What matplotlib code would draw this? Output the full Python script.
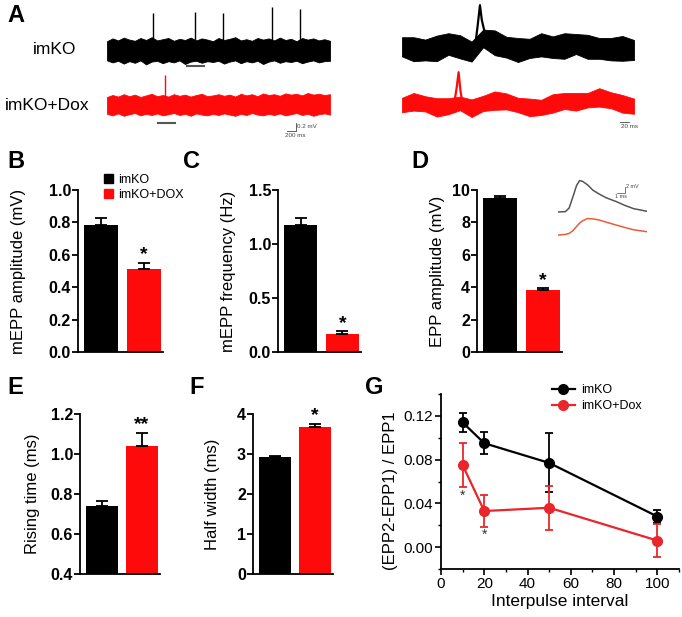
import numpy as np
import matplotlib.pyplot as plt
from matplotlib.patches import Patch
from matplotlib.lines import Line2D

plt.rcParams['font.family'] = ['Liberation Sans', 'DejaVu Sans']

# ---------------- data ----------------
groups = ["imKO", "imKO+DOX"]
mepp_amp = [0.785, 0.51]
mepp_amp_err = [0.045, 0.04]
mepp_freq = [1.18, 0.17]
mepp_freq_err = [0.06, 0.02]
epp_amp = [9.5, 3.8]
epp_amp_err = [0.12, 0.14]
rise_time = [0.74, 1.04]
rise_time_err = [0.025, 0.065]
half_width = [2.92, 3.68]
half_width_err = [0.04, 0.07]

ppf_interval = [10, 20, 50, 100]
ppf_imko = [0.114, 0.095, 0.077, 0.028]
ppf_imko_err = [0.009, 0.010, 0.027, 0.006]
ppf_dox = [0.075, 0.033, 0.036, 0.006]
ppf_dox_err = [0.020, 0.015, 0.020, 0.015]
ppf_star_x = [10, 20]
ppf_star_y = [0.047, 0.011]

# panel A, long recordings (ms, mV): noise envelope every 125 ms
long_t = np.arange(0, 5001, 125)
ko_long_hi = [0.22, 0.29, 0.24, 0.31, 0.26, 0.23, 0.30, 0.25, 0.32, 0.24, 0.27, 0.30, 0.23, 0.28,
              0.25, 0.31, 0.24, 0.29, 0.26, 0.22, 0.30, 0.25, 0.28, 0.32, 0.24, 0.27, 0.23, 0.30,
              0.26, 0.29, 0.24, 0.31, 0.25, 0.28, 0.22, 0.30, 0.26, 0.29, 0.24, 0.27, 0.23]
ko_long_lo = [-0.26, -0.31, -0.27, -0.34, -0.28, -0.32, -0.26, -0.36, -0.29, -0.27, -0.33, -0.28,
              -0.31, -0.26, -0.35, -0.29, -0.27, -0.32, -0.28, -0.30, -0.27, -0.34, -0.29, -0.26,
              -0.33, -0.28, -0.31, -0.27, -0.35, -0.29, -0.26, -0.32, -0.28, -0.30, -0.27, -0.33,
              -0.29, -0.26, -0.31, -0.28, -0.27]
dox_long_hi = [0.20, 0.25, 0.21, 0.27, 0.22, 0.26, 0.20, 0.24, 0.28, 0.22, 0.25, 0.21, 0.27, 0.23,
               0.26, 0.21, 0.25, 0.28, 0.22, 0.24, 0.27, 0.23, 0.26, 0.21, 0.28, 0.24, 0.27, 0.22,
               0.29, 0.25, 0.27, 0.23, 0.29, 0.26, 0.28, 0.24, 0.30, 0.26, 0.28, 0.25, 0.27]
dox_long_lo = [-0.22, -0.26, -0.21, -0.27, -0.23, -0.20, -0.26, -0.22, -0.25, -0.21, -0.26, -0.23,
               -0.20, -0.25, -0.22, -0.27, -0.21, -0.24, -0.26, -0.22, -0.25, -0.21, -0.24, -0.27,
               -0.22, -0.25, -0.20, -0.24, -0.26, -0.22, -0.25, -0.21, -0.26, -0.23, -0.20, -0.25,
               -0.22, -0.27, -0.23, -0.21, -0.24]
ko_spike_t = [1031, 1973, 2601, 3700, 4327]
ko_spike_h = [0.92, 0.94, 0.92, 1.07, 1.02]
dox_spike_t = [1300]
dox_spike_h = [0.75]

# panel A, short recordings (ms, mV): centre and half thickness of the noisy trace
short_t = [0, 25, 50, 75, 100, 125, 150, 175, 200, 225, 250,
           275, 300, 325, 350, 375, 400, 425, 450, 475, 500]
ko_short_mid = [0.08, 0.02, 0.0, 0.04, 0.15, 0.08, -0.04, 0.29, 0.18, 0.07, 0.0,
                0.04, 0.13, 0.07, 0.10, 0.15, 0.08, 0.04, 0.02, 0.04, 0.0]
ko_short_half = [0.24, 0.30, 0.26, 0.32, 0.27, 0.29, 0.25, 0.22, 0.31, 0.26, 0.30,
                 0.24, 0.29, 0.27, 0.32, 0.25, 0.30, 0.26, 0.28, 0.31, 0.25]
dox_short_mid = [0.0, 0.08, 0.03, -0.06, -0.03, 0.04, -0.08, 0.04, 0.11, 0.09, 0.0,
                 -0.06, -0.06, 0.04, 0.10, 0.08, 0.12, 0.19, 0.12, 0.03, -0.03]
dox_short_half = [0.18, 0.22, 0.19, 0.23, 0.20, 0.17, 0.22, 0.19, 0.23, 0.20, 0.18,
                  0.22, 0.19, 0.23, 0.20, 0.22, 0.18, 0.23, 0.20, 0.22, 0.19]
ko_short_spk_t = [156, 163, 168, 172, 178, 188]
ko_short_spk_v = [-0.05, 0.6, 1.12, 0.75, 0.45, 0.3]
dox_short_spk_t = [112, 118, 122, 126, 132]
dox_short_spk_v = [0.0, 0.45, 0.82, 0.35, -0.05]

# panel D inset, evoked EPPs (ms, mV)
epp_t = [0, 1.0, 1.5, 2.0, 2.5, 2.9, 3.3, 4.0, 4.7, 5.5, 6.5, 7.9, 9.0, 10.2, 12]
epp_ko = [0, 0.1, 1.2, 4.5, 8.0, 9.5, 9.3, 8.2, 6.6, 5.5, 4.3, 3.1, 2.0, 1.0, 0.2]
epp_dox = [0, 0.2, 0.5, 1.3, 2.6, 3.6, 4.3, 5.0, 4.9, 4.6, 3.9, 3.0, 2.3, 1.6, 1.0]

BLACK = "#000000"
RED = "#ff0a0a"
W, H = 682, 617
fig = plt.figure(figsize=(W / 100, H / 100), dpi=100)


def px_axes(l, t, r, b):
    return fig.add_axes([l / W, 1 - b / H, (r - l) / W, (b - t) / H])


def letter(x, y, s):
    fig.text(x / W, 1 - y / H, s, fontsize=17, fontweight='bold', ha='left', va='center')


def bar_panel(ax, vals, errs, ylim, yticks, ticklabels, ylabel, label_x, stars):
    x = np.arange(len(vals))
    ax.bar(x, vals, width=0.8, color=[BLACK, RED])
    ax.errorbar(x, vals, yerr=[np.zeros(len(errs)), errs], fmt='none', ecolor='black',
                elinewidth=1.3, capsize=4.5, capthick=1.3)
    ax.set_xlim(-0.55, 1.45)
    ax.set_ylim(*ylim)
    ax.set_yticks(yticks)
    ax.set_yticklabels(ticklabels, fontweight='bold')
    for s in ['top', 'right']:
        ax.spines[s].set_visible(False)
    for s in ['left', 'bottom']:
        ax.spines[s].set_linewidth(1.3)
    ax.tick_params(axis='x', length=0, labelbottom=False)
    ax.tick_params(axis='y', length=4, width=1.3, labelsize=11.5, pad=1)
    ax.set_ylabel(ylabel, fontsize=12, va='center')
    ax.yaxis.set_label_coords(label_x, 0.5)
    ax.annotate(stars, xy=(1, vals[1] + errs[1]), xytext=(0, 2.5),
                textcoords='offset points', ha='center', va='baseline',
                fontsize=14, fontweight='bold')


# ---------------- panel A ----------------
letter(7, 16, "A")
fig.text(55 / W, 1 - 50 / H, "imKO", fontsize=12.5, ha='center', va='center')
fig.text(47 / W, 1 - 105 / H, "imKO+Dox", fontsize=12.5, ha='center', va='center')

dox_off = -1.375
axA1 = px_axes(107, 0, 330, 140)
axA1.set_xlim(0, 5000)
axA1.set_ylim(-2.25, 1.25)
axA1.axis('off')
axA1.fill_between(long_t, ko_long_lo, ko_long_hi, color=BLACK, lw=0.6)
axA1.vlines(ko_spike_t, 0, ko_spike_h, color=BLACK, lw=1.0)
axA1.fill_between(long_t, np.array(dox_long_lo) + dox_off, np.array(dox_long_hi) + dox_off,
                  color=RED, lw=0.6)
axA1.vlines(dox_spike_t, dox_off, np.array(dox_spike_h) + dox_off, color=RED, lw=1.0)
axA1.plot([1794, 2175], [-0.39, -0.39], color='#555555', lw=1.5)
axA1.plot([1143, 1525], [-1.83, -1.83], color='#555555', lw=1.5)
axA1.plot([4029, 4229, 4229], [-2.025, -2.025, -1.825], color='#444444', lw=0.6)
axA1.text(4260, -1.9, "0.2 mV", fontsize=4.5, color='#444444', va='center')
axA1.text(4000, -2.07, "200 ms", fontsize=4.5, color='#444444', va='top')

axA2 = px_axes(402, 0, 634, 140)
axA2.set_xlim(0, 500)
axA2.set_ylim(-2.25, 1.25)
axA2.axis('off')
ko_mid = np.array(ko_short_mid)
ko_half = np.array(ko_short_half)
axA2.fill_between(short_t, ko_mid - ko_half, ko_mid + ko_half, color=BLACK, lw=0.6)
axA2.plot(ko_short_spk_t, ko_short_spk_v, color=BLACK, lw=1.6)
dox_mid = np.array(dox_short_mid) + dox_off
dox_half = np.array(dox_short_half)
axA2.fill_between(short_t, dox_mid - dox_half, dox_mid + dox_half, color=RED, lw=0.6)
axA2.plot(dox_short_spk_t, np.array(dox_short_spk_v) + dox_off, color=RED, lw=1.6)
axA2.plot([470, 490], [-1.8, -1.8], color='#444444', lw=0.6)
axA2.text(472, -1.85, "20 ms", fontsize=4.5, color='#444444', va='top')

# ---------------- panels B, C, D ----------------
letter(7, 162, "B")
axB = px_axes(78, 190, 163, 352)
bar_panel(axB, mepp_amp, mepp_amp_err, (0, 1.0), [0, 0.2, 0.4, 0.6, 0.8, 1.0],
          ["0.0", "0.2", "0.4", "0.6", "0.8", "1.0"], "mEPP amplitude (mV)",
          (19 - 78) / 85, "*")
axB.legend(handles=[Patch(color=BLACK, label=groups[0]), Patch(color=RED, label=groups[1])],
           loc='upper left', bbox_to_anchor=(104 / W, 1 - 174 / H), bbox_transform=fig.transFigure,
           frameon=False, fontsize=9, handlelength=0.7, handleheight=0.7,
           handletextpad=0.4, labelspacing=0.2, borderpad=0, borderaxespad=0)

letter(183, 162, "C")
axC = px_axes(278, 190, 361, 352)
bar_panel(axC, mepp_freq, mepp_freq_err, (0, 1.5), [0, 0.5, 1.0, 1.5],
          ["0.0", "0.5", "1.0", "1.5"], "mEPP frequency (Hz)",
          (228 - 278) / 83, "*")

letter(411, 162, "D")
axD = px_axes(477, 190, 562, 352)
bar_panel(axD, epp_amp, epp_amp_err, (0, 10), [0, 2, 4, 6, 8, 10],
          ["0", "2", "4", "6", "8", "10"], "EPP amplitude (mV)",
          (437 - 477) / 85, "*")

axDi = px_axes(558, 176, 647, 240)
axDi.set_xlim(0, 12)
axDi.set_ylim(-8.5, 10.9)
axDi.axis('off')
axDi.plot(epp_t, epp_ko, color='#555555', lw=1.1)
axDi.plot(epp_t, np.array(epp_dox) - 7, color='#ef5a3a', lw=1.1)
axDi.plot([8.0, 9.0, 9.0], [5.6, 5.6, 7.6], color='#444444', lw=0.5)
axDi.text(9.2, 7.6, "2 mV", fontsize=4, color='#444444', va='center')
axDi.text(8.5, 5.3, "1 ms", fontsize=4, color='#444444', va='top', ha='center')

# ---------------- panels E, F ----------------
letter(7, 388, "E")
axE = px_axes(80, 414, 160, 574)
bar_panel(axE, rise_time, rise_time_err, (0.4, 1.2), [0.4, 0.6, 0.8, 1.0, 1.2],
          ["0.4", "0.6", "0.8", "1.0", "1.2"], "Rising time (ms)",
          (32 - 80) / 80, "**")

letter(189, 388, "F")
axF = px_axes(253, 414, 333, 574)
bar_panel(axF, half_width, half_width_err, (0, 4), [0, 1, 2, 3, 4],
          ["0", "1", "2", "3", "4"], "Half width (ms)",
          (212 - 253) / 80, "*")

# ---------------- panel G ----------------
letter(365, 388, "G")
axG = px_axes(441, 394, 679, 569)
ko_color, dox_color = BLACK, '#e8262b'
axG.errorbar(ppf_interval, ppf_imko, yerr=ppf_imko_err, color=ko_color, marker='o', ms=7,
             lw=1.6, elinewidth=1.3, capsize=3, capthick=1.3)
axG.errorbar(ppf_interval, ppf_dox, yerr=ppf_dox_err, color=dox_color, marker='o', ms=7,
             lw=1.6, elinewidth=1.3, capsize=3, capthick=1.3)
for sx, sy in zip(ppf_star_x, ppf_star_y):
    axG.text(sx, sy, "*", ha='center', va='center', fontsize=10, color='#333333')
axG.set_xlim(0, 110)
axG.set_ylim(-0.02, 0.14)
axG.set_xticks([0, 20, 40, 60, 80, 100])
axG.set_xticks([10, 30, 50, 70, 90, 110], minor=True)
axG.set_yticks([0.0, 0.04, 0.08, 0.12])
axG.set_yticks([-0.02, 0.02, 0.06, 0.10, 0.14], minor=True)
axG.set_yticklabels(["0.00", "0.04", "0.08", "0.12"])
for s in ['top', 'right']:
    axG.spines[s].set_visible(False)
for s in ['left', 'bottom']:
    axG.spines[s].set_linewidth(1.3)
axG.tick_params(which='major', length=4, width=1.2, labelsize=11, pad=2)
axG.tick_params(which='minor', length=2.5, width=1.0)
axG.set_xlabel("Interpulse interval", fontsize=12.5, labelpad=2)
axG.set_ylabel("(EPP2-EPP1) / EPP1", fontsize=12, va='center')
axG.yaxis.set_label_coords((390 - 441) / 238, 0.45)
g_handles = [Line2D([], [], color=ko_color, marker='o', ms=7, lw=1.6, label="imKO"),
             Line2D([], [], color=dox_color, marker='o', ms=7, lw=1.6, label="imKO+Dox")]
axG.legend(handles=g_handles, loc='upper left', bbox_to_anchor=(552 / W, 1 - 384 / H),
           bbox_transform=fig.transFigure, frameon=False, fontsize=9, handlelength=1.8,
           handletextpad=0.5, labelspacing=0.35, borderpad=0, borderaxespad=0)

fig.savefig("out.png", dpi=100)
